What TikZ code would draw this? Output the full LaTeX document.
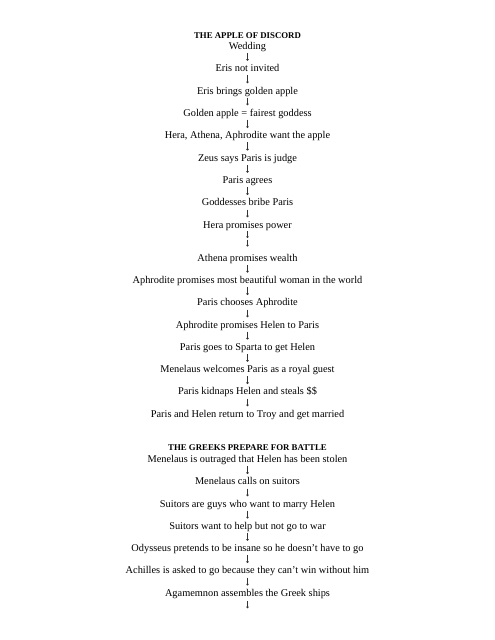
\documentclass[tikz,border=0pt]{standalone}
\usepackage{fontspec}
\setmainfont{Liberation Serif}
\usetikzlibrary{arrows.meta}
\tikzset{
  txt/.style={font=\fontsize{10.35}{12}\selectfont, inner sep=0pt, text height=7pt, text depth=2pt, anchor=base},
  ttl/.style={font=\fontsize{8.8}{10}\selectfont\bfseries, inner sep=0pt, text height=6pt, text depth=1pt, anchor=base},
  arr/.style={-{To[length=1.8pt,width=2.8pt]}, draw=black!80, line width=0.45pt, shorten <=1.5pt, shorten >=3.5pt}
}
\begin{document}
\begin{tikzpicture}[x=1pt,y=-1pt]
\useasboundingbox (0,0) rectangle (495,640);
\def\cx{247.5}
% section 1
\node[ttl] (t1) at (\cx,38) {THE APPLE OF DISCORD};
\node[txt] (n1) at (\cx,49.7) {Wedding};
\node[txt] (n2) at (\cx,71.5) {Eris not invited};
\node[txt] (n3) at (\cx,94) {Eris brings golden apple};
\node[txt] (n4) at (\cx,116) {Golden apple = fairest goddess};
\node[txt] (n5) at (\cx,138.7) {Hera, Athena, Aphrodite want the apple};
\node[txt] (n6) at (\cx,161.3) {Zeus says Paris is judge};
\node[txt] (n7) at (\cx,183.5) {Paris agrees};
\node[txt] (n8) at (\cx,205.8) {Goddesses bribe Paris};
\node[txt] (n9) at (\cx,228) {Hera promises power};
\node[txt] (n10) at (\cx,261.3) {Athena promises wealth};
\node[txt] (n11) at (\cx,283.4) {Aphrodite promises most beautiful woman in the world};
\node[txt] (n12) at (\cx,305.8) {Paris chooses Aphrodite};
\node[txt] (n13) at (\cx,328) {Aphrodite promises Helen to Paris};
\node[txt] (n14) at (\cx,350.3) {Paris goes to Sparta to get Helen};
\node[txt] (n15) at (\cx,372.5) {Menelaus welcomes Paris as a royal guest};
\node[txt] (n16) at (\cx,394.8) {Paris kidnaps Helen and steals \$\$};
\node[txt] (n17) at (\cx,417) {Paris and Helen return to Troy and get married};
\coordinate (mid) at (\cx,239);
% section 2
\node[ttl] (t2) at (\cx,450.7) {THE GREEKS PREPARE FOR BATTLE};
\node[txt] (m1) at (\cx,462.5) {Menelaus is outraged that Helen has been stolen};
\node[txt] (m2) at (\cx,484.8) {Menelaus calls on suitors};
\node[txt] (m3) at (\cx,507) {Suitors are guys who want to marry Helen};
\node[txt] (m4) at (\cx,529.2) {Suitors want to help but not go to war};
\node[txt] (m5) at (\cx,551.5) {Odysseus pretends to be insane so he doesn’t have to go};
\node[txt] (m6) at (\cx,573.8) {Achilles is asked to go because they can’t win without him};
\node[txt] (m7) at (\cx,596.2) {Agamemnon assembles the Greek ships};
\coordinate (end) at (\cx,608.3);
% connectors
\foreach \a/\b in {n1/n2,n2/n3,n3/n4,n4/n5,n5/n6,n6/n7,n7/n8,n8/n9,
                   n10/n11,n11/n12,n12/n13,n13/n14,n14/n15,n15/n16,n16/n17,
                   m1/m2,m2/m3,m3/m4,m4/m5,m5/m6,m6/m7}
  \draw[arr] (\a) -- (\b);
\draw[arr, shorten <=1pt, shorten >=1pt] (n9) -- (mid);
\draw[arr, shorten <=0.7pt, shorten >=7.6pt] (mid) -- (n10);
\draw[arr, shorten <=2.5pt, shorten >=0pt] (m7) -- (end);
\end{tikzpicture}
\end{document}
